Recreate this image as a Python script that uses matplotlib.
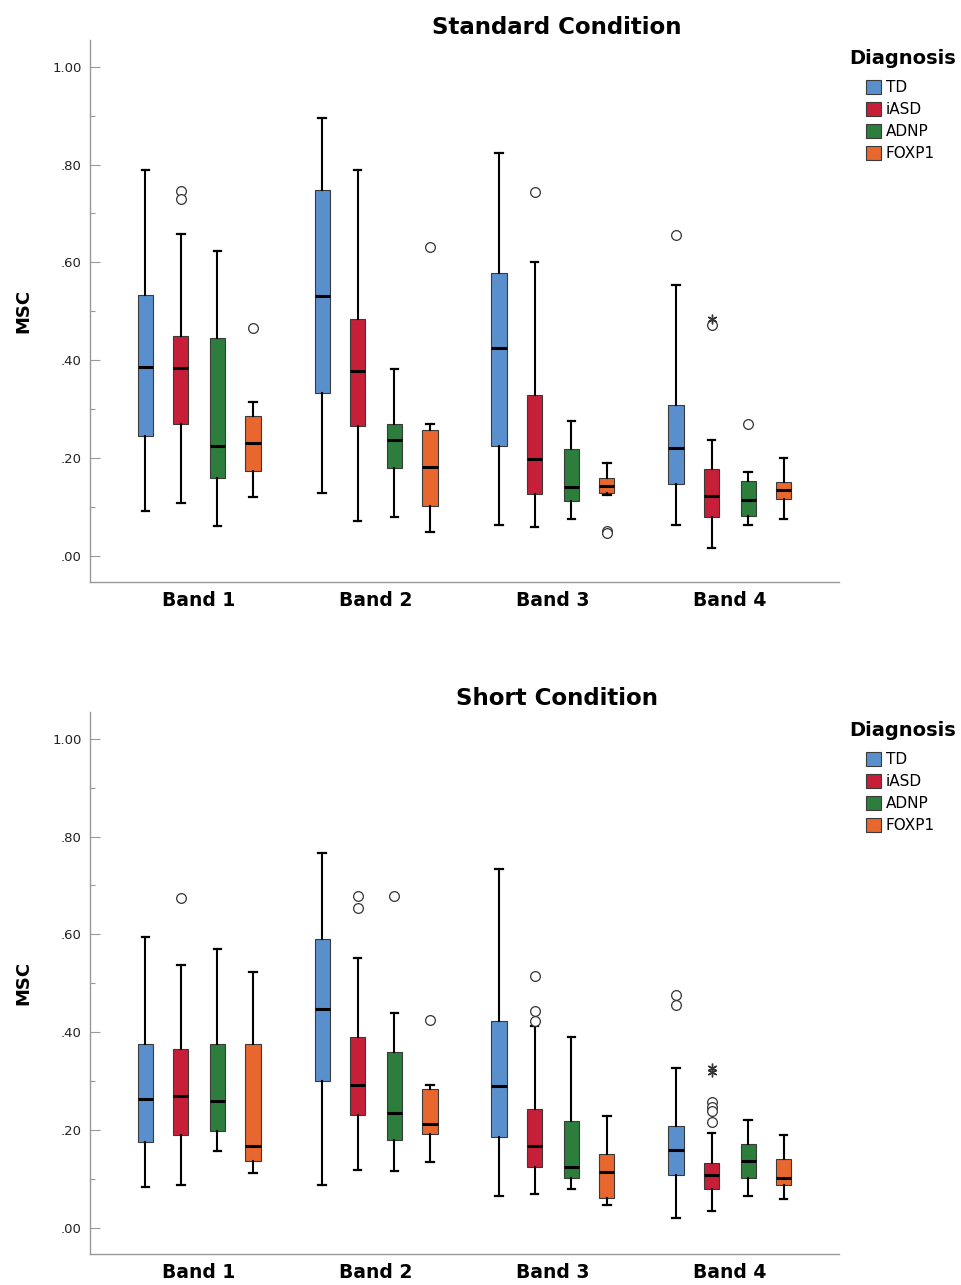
import matplotlib
matplotlib.use('Agg')
import matplotlib.pyplot as plt
from matplotlib.patches import Patch
from matplotlib.ticker import MultipleLocator

plt.rcParams['font.family'] = ['DejaVu Sans']

groups = ['TD', 'iASD', 'ADNP', 'FOXP1']
bands = ['Band 1', 'Band 2', 'Band 3', 'Band 4']
colors = ['#5a8fcd', '#c61f37', '#2d7d3d', '#e8672f']
yticks = [0.0, 0.2, 0.4, 0.6, 0.8, 1.0]
ytick_labels = ['.00', '.20', '.40', '.60', '.80', '1.00']

# Standard condition: rows = bands, columns = groups
std_low = [[0.092, 0.108, 0.061, 0.120],
           [0.128, 0.070, 0.078, 0.049],
           [0.063, 0.058, 0.074, 0.125],
           [0.063, 0.015, 0.062, 0.075]]
std_q1 = [[0.245, 0.270, 0.158, 0.174],
          [0.333, 0.265, 0.179, 0.102],
          [0.224, 0.127, 0.112, 0.128],
          [0.147, 0.079, 0.081, 0.116]]
std_med = [[0.385, 0.383, 0.224, 0.231],
           [0.532, 0.377, 0.236, 0.182],
           [0.425, 0.198, 0.141, 0.143],
           [0.220, 0.121, 0.114, 0.134]]
std_q3 = [[0.533, 0.450, 0.445, 0.286],
          [0.748, 0.484, 0.270, 0.256],
          [0.578, 0.329, 0.219, 0.159],
          [0.309, 0.177, 0.152, 0.151]]
std_high = [[0.789, 0.658, 0.624, 0.314],
            [0.896, 0.788, 0.381, 0.270],
            [0.823, 0.601, 0.275, 0.190],
            [0.553, 0.237, 0.171, 0.200]]
std_out = [[[], [0.746, 0.730], [], [0.466]],
           [[], [], [], [0.632]],
           [[], [0.745], [], [0.051, 0.047]],
           [[0.657], [0.472], [0.270], []]]
std_ext = [[[], [], [], []],
           [[], [], [], []],
           [[], [], [], []],
           [[], [0.484], [], []]]

# Short condition
sh_low = [[0.083, 0.087, 0.156, 0.112],
          [0.087, 0.118, 0.115, 0.135],
          [0.065, 0.069, 0.080, 0.047],
          [0.020, 0.034, 0.065, 0.059]]
sh_q1 = [[0.176, 0.189, 0.198, 0.136],
         [0.301, 0.230, 0.180, 0.192],
         [0.186, 0.124, 0.102, 0.061],
         [0.108, 0.080, 0.102, 0.088]]
sh_med = [[0.264, 0.269, 0.260, 0.167],
          [0.448, 0.291, 0.235, 0.213],
          [0.289, 0.167, 0.124, 0.113],
          [0.159, 0.108, 0.137, 0.101]]
sh_q3 = [[0.376, 0.366, 0.376, 0.376],
         [0.590, 0.391, 0.359, 0.284],
         [0.422, 0.242, 0.219, 0.151],
         [0.208, 0.133, 0.172, 0.140]]
sh_high = [[0.594, 0.538, 0.571, 0.524],
           [0.767, 0.552, 0.440, 0.292],
           [0.734, 0.413, 0.391, 0.228],
           [0.326, 0.194, 0.221, 0.189]]
sh_out = [[[], [0.674], [], []],
          [[], [0.678, 0.654], [0.679], [0.424]],
          [[], [0.514, 0.443, 0.422], [], []],
          [[0.476, 0.456], [0.257, 0.246, 0.238, 0.216], [], []]]
sh_ext = [[[], [], [], []],
          [[], [], [], []],
          [[], [], [], []],
          [[], [0.327, 0.318], [], []]]

offsets = [-0.305, -0.102, 0.102, 0.305]

fig = plt.figure(figsize=(9.62, 12.85), dpi=100)


def draw(ax, low, q1, med, q3, high, out, ext):
    for b in range(len(bands)):
        for g in range(len(groups)):
            stats = [dict(whislo=low[b][g], q1=q1[b][g], med=med[b][g],
                          q3=q3[b][g], whishi=high[b][g], fliers=out[b][g])]
            pos = b + offsets[g]
            ax.bxp(stats, positions=[pos], widths=0.085, capwidths=0.04,
                   patch_artist=True, manage_ticks=False,
                   boxprops=dict(facecolor=colors[g], edgecolor='#3a3a3a', linewidth=0.8),
                   medianprops=dict(color='black', linewidth=2.2),
                   whiskerprops=dict(color='black', linewidth=1.5),
                   capprops=dict(color='black', linewidth=1.6),
                   flierprops=dict(marker='o', markersize=7, markerfacecolor='white',
                                   markeredgecolor='#333333', markeredgewidth=0.9))
            if ext[b][g]:
                ax.plot([pos] * len(ext[b][g]), ext[b][g], linestyle='none',
                        marker=(6, 2, 0), markersize=7, color='#333333',
                        markeredgewidth=1.0)

    ax.set_xlim(-0.616, 3.616)
    ax.set_ylim(-0.054, 1.055)
    ax.set_xticks(range(len(bands)))
    ax.set_xticklabels(bands, fontsize=13.5, fontweight='bold')
    ax.tick_params(axis='x', length=0, pad=6.5)
    ax.set_yticks(yticks)
    ax.set_yticklabels(ytick_labels, fontsize=9.5, color='#222222')
    ax.yaxis.set_minor_locator(MultipleLocator(0.1))
    ax.tick_params(axis='y', which='major', direction='in', length=7, width=0.8,
                   color='#999999', pad=6)
    ax.tick_params(axis='y', which='minor', direction='in', length=3.5, width=0.8,
                   color='#999999')
    ax.set_ylabel('MSC', fontsize=13, fontweight='bold', labelpad=14)
    for s in ['top', 'right']:
        ax.spines[s].set_visible(False)
    for s in ['left', 'bottom']:
        ax.spines[s].set_color('#999999')
        ax.spines[s].set_linewidth(1.0)


ax1 = fig.add_axes([90 / 962, 1 - 582 / 1285, 749 / 962, 542 / 1285])
draw(ax1, std_low, std_q1, std_med, std_q3, std_high, std_out, std_ext)
ax2 = fig.add_axes([90 / 962, 1 - 1254 / 1285, 749 / 962, 542 / 1285])
draw(ax2, sh_low, sh_q1, sh_med, sh_q3, sh_high, sh_out, sh_ext)

fig.text(557 / 962, 1 - 27 / 1285, 'Standard Condition', ha='center', va='center',
         fontsize=16.5, fontweight='bold')
fig.text(557 / 962, 1 - 699 / 1285, 'Short Condition', ha='center', va='center',
         fontsize=16.5, fontweight='bold')

# legend: title drawn as text, entries as a legend without title
handles = [Patch(facecolor=c, edgecolor='#3a3a3a', linewidth=0.8) for c in colors]
for title_y, items_top in [(58, 80), (730, 752)]:
    fig.text(849 / 962, 1 - title_y / 1285, 'Diagnosis', ha='left', va='center',
             fontsize=14, fontweight='bold')
    fig.legend(handles, groups, loc='upper left',
               bbox_to_anchor=(866 / 962, 1 - items_top / 1285),
               frameon=False, fontsize=11, borderpad=0, borderaxespad=0,
               handlelength=1.0, handleheight=1.0, handletextpad=0.3,
               labelspacing=0.45)

fig.savefig('out.png', dpi=100)
